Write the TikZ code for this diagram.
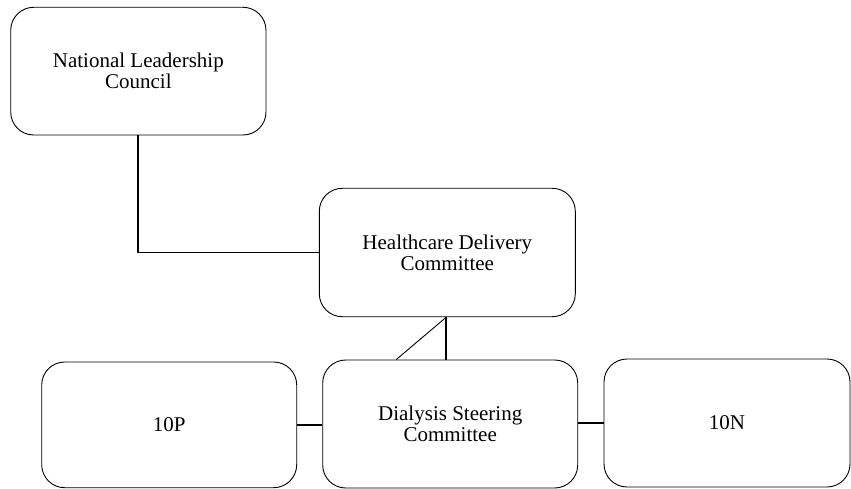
\documentclass[tikz,border=0pt]{standalone}
\usepackage{fontspec}
\setmainfont{Liberation Serif}
\usetikzlibrary{calc}
\begin{document}
\begin{tikzpicture}[x=1pt,y=-1pt,
  box/.style={draw=black, line width=0.9pt, rounded corners=23pt, align=center,
    font=\fontsize{21}{21}\selectfont, inner sep=0pt},
  link/.style={draw=black, line width=1.8pt},
  thinlink/.style={draw=black, line width=0.9pt}]
\useasboundingbox (0,0) rectangle (851,489);
\node[box, minimum width=255.3pt, minimum height=127.7pt] (NLC) at (138.35,71.15) {National Leadership\\Council};
\node[box, minimum width=256pt, minimum height=128.4pt] (HDC) at (447.3,252.5) {Healthcare Delivery\\Committee};
\node[box, minimum width=255pt, minimum height=128pt] (DSC) at (450.2,424) {Dialysis Steering\\Committee};
\node[box, minimum width=255pt, minimum height=125.7pt] (P) at (169.2,424.85) {10P};
\node[box, minimum width=246pt, minimum height=128pt] (N) at (727,423) {10N};
\coordinate (d) at ($(DSC.north west)+(74,0)$);
\draw[link] (NLC.south) |- (HDC.west);
\draw[link] ([xshift=-1pt]HDC.south) -- ([xshift=-1pt]HDC.south |- DSC.north);
\draw[thinlink] ([xshift=-1pt]HDC.south) -- (d);
\draw[link] (P.east) -- (P.east -| DSC.west);
\draw[link] (DSC.east |- N.west) -- (N.west);
\end{tikzpicture}
\end{document}
